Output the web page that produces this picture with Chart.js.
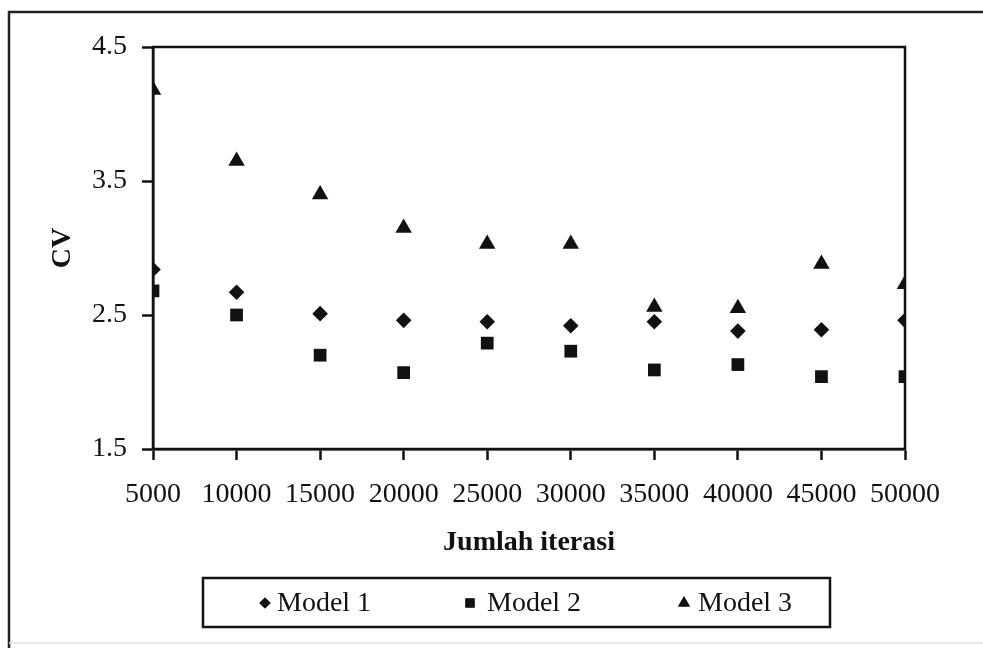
<!DOCTYPE html>
<html><head><meta charset="utf-8">
<script src="https://cdn.jsdelivr.net/npm/chart.js@4.4.0/dist/chart.umd.min.js"></script>
<style>html,body{margin:0;padding:0;background:#fff;}#wrap{width:983px;height:648px;position:relative;}</style>
</head><body><div id="wrap"><canvas id="c"></canvas></div>
<script>
const iterations = [5000, 10000, 15000, 20000, 25000, 30000, 35000, 40000, 45000, 50000];
const model1 = [2.84, 2.67, 2.51, 2.46, 2.45, 2.42, 2.45, 2.38, 2.39, 2.46];
const model2 = [2.68, 2.50, 2.20, 2.07, 2.29, 2.23, 2.09, 2.13, 2.04, 2.04];
const model3 = [4.18, 3.65, 3.40, 3.15, 3.03, 3.03, 2.56, 2.55, 2.88, 2.73];
const seriesNames = ['Model 1', 'Model 2', 'Model 3'];
const yTickValues = [1.5, 2.5, 3.5, 4.5];
const xTitle = 'Jumlah iterasi';
const yTitle = 'CV';

const FONT = "'Liberation Serif', 'Times New Roman', serif";
const toPts = arr => arr.map((v, i) => ({x: iterations[i], y: v}));

const styles = [
  {pointStyle: 'rectRot', radius: 7.8},
  {pointStyle: 'rect', radius: 9},
  {pointStyle: 'triangle', radius: 9.5}
];

const framePlugin = {
  id: 'framePlugin',
  afterDraw(chart) {
    const ctx = chart.ctx, a = chart.chartArea;
    ctx.save();
    ctx.strokeStyle = '#111';
    ctx.lineWidth = 2.5;
    ctx.strokeRect(a.left, a.top, a.right - a.left, a.bottom - a.top);
    ctx.strokeStyle = '#222';
    ctx.beginPath();
    ctx.moveTo(9, 648); ctx.lineTo(9, 12); ctx.lineTo(983, 12);
    ctx.stroke();
    ctx.strokeStyle = '#ddd';
    ctx.lineWidth = 1.5;
    ctx.beginPath(); ctx.moveTo(9, 643); ctx.lineTo(983, 643); ctx.stroke();
    // legend box
    const L = 203, R = 830, T = 578, B = 627;
    ctx.strokeStyle = '#111';
    ctx.lineWidth = 2.5;
    ctx.strokeRect(L, T, R - L, B - T);
    const markerX = [265, 470, 684];
    const textX = [277, 487, 698];
    const cy = 603;
    ctx.font = '28px ' + FONT;
    ctx.textBaseline = 'middle';
    ctx.textAlign = 'left';
    chart.data.datasets.forEach((ds, i) => {
      const opts = {pointStyle: ds.pointStyle, radius: ds.pointRadius * 0.72, borderWidth: 0, rotation: 0};
      ctx.fillStyle = '#111';
      if (Chart.helpers && Chart.helpers.drawPoint) {
        Chart.helpers.drawPoint(ctx, opts, markerX[i], cy);
        ctx.fill();
      }
      ctx.fillText(ds.label, textX[i], cy + 1);
    });
    ctx.restore();
  }
};

new Chart(document.getElementById('c'), {
  type: 'scatter',
  data: {
    datasets: [model1, model2, model3].map((arr, i) => ({
      label: seriesNames[i],
      data: toPts(arr),
      pointStyle: styles[i].pointStyle,
      pointRadius: styles[i].radius,
      pointHoverRadius: styles[i].radius,
      pointBorderWidth: 0,
      backgroundColor: '#111',
      borderColor: '#111',
      showLine: false
    }))
  },
  options: {
    responsive: true,
    maintainAspectRatio: false,
    animation: false,
    devicePixelRatio: 1,
    layout: {padding: {left: 46, top: 47, right: 78, bottom: 88}},
    plugins: {legend: {display: false}, tooltip: {enabled: false}},
    scales: {
      x: {
        type: 'linear',
        min: iterations[0],
        max: iterations[iterations.length - 1],
        afterBuildTicks: s => { s.ticks = iterations.map(v => ({value: v})); },
        afterFit: s => { s.height = 111; },
        ticks: {
          autoSkip: false, maxRotation: 0, padding: 18, color: '#111',
          font: {family: FONT, size: 28},
          callback: v => String(v)
        },
        grid: {drawOnChartArea: false, tickLength: 11, color: '#111', tickWidth: 2.5},
        border: {color: '#111', width: 2.5},
        title: {display: true, text: xTitle, color: '#111', padding: 0,
          font: {family: FONT, size: 28, weight: 'bold'}}
      },
      y: {
        type: 'linear',
        min: yTickValues[0],
        max: yTickValues[yTickValues.length - 1],
        afterBuildTicks: s => { s.ticks = yTickValues.map(v => ({value: v})); },
        afterFit: s => { s.width = 107; },
        ticks: {
          padding: 15, color: '#111',
          font: {family: FONT, size: 28},
          callback: v => Number(v).toFixed(1)
        },
        grid: {drawOnChartArea: false, tickLength: 11, color: '#111', tickWidth: 2.5},
        border: {color: '#111', width: 2.5},
        title: {display: true, text: yTitle, color: '#111', padding: 0,
          font: {family: FONT, size: 28, weight: 'bold'}}
      }
    }
  },
  plugins: [framePlugin]
});
</script>
</body></html>
